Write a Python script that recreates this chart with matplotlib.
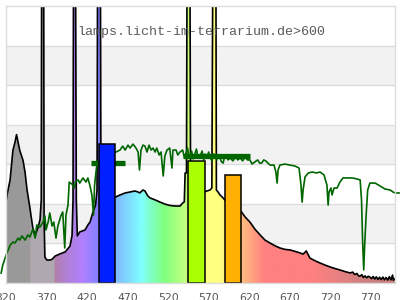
import numpy as np
import matplotlib
matplotlib.use("Agg")
import matplotlib.pyplot as plt
from matplotlib.colors import to_rgb

# lamp spectrum (nm, relative intensity; spikes run off the top)
lamp_nm = [320, 322, 325, 328.5, 331, 333, 335, 337, 341, 343.5, 346, 349.5, 353, 356,
           359.5, 362, 363.5, 364, 366.5, 367, 368, 370.5, 374, 377, 380.5, 386.5, 393,
           399, 401.5, 402.7, 403.3, 405.8, 406.8, 408, 411, 417.5, 421, 423.7, 427,
           430.5, 432.3, 433, 436.5, 437.2, 445, 455.7, 458, 460.7, 467, 473, 479, 483,
           485, 489, 491.5, 495, 497.7, 504, 510, 516, 522, 528.6, 534.7, 538, 540, 541,
           542.7, 543.4, 547, 547.7, 550, 564.3, 568, 571.7, 574, 575.2, 579, 579.6,
           581.7, 584, 586.7, 590, 600, 608.8, 615, 621, 627, 633.5, 639.6, 645.8, 652,
           658, 664, 670.5, 676.5, 682.8, 686.5, 689, 690.5, 693, 695, 701, 707.5, 714,
           720, 726, 732, 738, 744.5, 748, 750, 753, 755, 757, 759, 761, 763, 765, 767,
           769, 771, 773, 775, 777, 779, 781, 783, 785, 787, 789, 791, 793, 795, 797,
           798, 800]
lamp_val = [41, 46, 52, 67, 71, 75, 71, 67, 62, 56, 47, 38, 28, 24,
            28, 32, 42, 160, 160, 32, 13, 11.6, 11.6, 12, 13.6, 14.7, 15.7,
            18.7, 24, 42, 160, 160, 42, 23.8, 25.8, 26.8, 29.3, 30.8, 35.4,
            39.4, 47, 160, 160, 44, 43.5, 43.5, 44, 44.5, 45.5, 46, 46.5, 46,
            45.5, 47, 46.5, 44, 43, 42, 40.9, 39.9, 39.2, 38.9, 38.9, 40.4, 41, 55.6,
            55.6, 160, 160, 55, 50, 46, 46.5, 47, 48, 160, 160, 47,
            46, 44.5, 43.5, 42, 39, 36.9, 33.4, 30.8, 27.3, 24.3, 21.7, 20.2, 18.8,
            17.7, 17.0, 16.7, 16.0, 15.2, 14.6, 15.5, 16.2, 14.2, 12.6, 11.3, 10.1, 9.0,
            8.1, 7.3, 6.6, 5.8, 5.1, 5.5, 4.3, 4.8, 3.6, 3.5, 4.2, 2.8, 3.6, 2.6, 3.4,
            3.0, 2.2, 3.3, 2.0, 3.1, 1.8, 2.9, 1.7, 3.0, 1.6, 2.8, 1.5, 3.2, 1.6, 4.0,
            1.4, 2.2]

# daylight reference (green)
day_nm = [314, 316, 320, 325, 328.5, 331, 335, 337, 339.7, 343.5, 347, 349.6, 353, 356,
          358, 362, 365.7, 368, 369.3, 372, 374, 376.8, 379, 381.7, 384, 387.7, 390,
          392.5, 394, 396.5, 398, 401.4, 404, 406, 409, 411, 415, 418.7, 421, 423.7,
          426, 428, 429.3, 431, 432, 436, 446, 455.7, 460.7, 464, 467, 470.5, 473,
          476.7, 480.4, 483, 484.7, 486.6, 489, 491.5, 494, 496.5, 499, 501.4, 504,
          506, 509, 511.3, 514, 516, 518.7, 522, 524.8, 526, 529.8, 532, 534.7, 538,
          540, 541.8, 544, 546, 547, 549, 551, 553, 555, 557, 559.5, 562, 564, 565.7,
          568, 570, 571.7, 574, 576, 578, 580, 582, 584, 586, 588, 590, 591.8, 594,
          596.6, 600, 603, 606, 609, 612, 615, 618, 621, 623.6, 627, 630.6, 633, 635.5,
          638, 640.5, 645.8, 650.7, 653, 654.5, 655.7, 658, 664, 670.5, 676.7, 681.6,
          684, 685.4, 686.6, 689, 693, 698, 703, 707.5, 712.4, 716, 717.5, 718.6, 721,
          722.3, 724.8, 728.5, 732, 735.8, 741, 747, 753, 757, 758.7, 760, 761.4,
          762.6, 764.4, 766.3, 769, 775.5, 781.5, 787.7, 794, 797.6, 800, 805]
day_val = [5, 9, 14, 19, 20.7, 20.2, 22.7, 21.7, 23.8, 21.7, 24.3, 23.2, 27.3, 22.7,
           29.3, 28.3, 30.8, 33.9, 26.8, 30.8, 35.4, 28.8, 30.8, 22.7, 28.8, 33.9, 35.9,
           17.7, 34.4, 39.4, 51, 50, 48, 51.5, 52.1, 50.5, 53.1, 51, 53.1, 49,
           44.5, 34.4, 49.5, 55.6, 59.6, 62.2, 64, 66.2, 67.2, 69.2, 67.2, 69.7, 68.2,
           70.2, 68.2, 66.2, 57.1, 67.2, 69.7, 69.2, 66.2, 69.7, 67.2, 68.2, 66.2,
           68.2, 64.7, 66.2, 54.1, 64.2, 67.2, 68.2, 58.1, 67.2, 67.2, 64.7, 66.2, 67.2,
           63.7, 65.2, 68.2, 63.2, 64.2, 66.7, 62.7, 65.2, 67.7, 63.2, 64.2, 66.7, 62.2, 65.2,
           63.2, 66.2, 63.7, 61.7, 65.2, 64.7, 62.2, 64.7, 63.2, 61.2, 60.6, 64.7, 64.2, 62.2,
           63.2, 61.7, 63.7, 62.2, 63.2, 61.7, 63.7, 62.2, 62.2, 60.1, 61.2, 62.2, 60.6, 60.6,
           62.2, 61.7, 59.6, 59.6, 56.1, 50.5, 57.1, 59.6, 60.1, 59.6, 59.1, 58.1,
           49.5, 40.9, 47.0, 53.6, 55.6, 56.1, 55.6, 56.1, 54.6, 49.5, 39.4, 46.0, 48.0,
           44.5, 48.0, 48.0, 51.0, 53.1, 53.1, 53.1, 52.6, 52.1, 41.9, 21.7, 6.6,
           19.2, 34.4, 47.0, 50.5, 50.5, 49.0, 47.5, 47.0, 46.0, 45.5, 45.5]

# daylight band markers
mark_lo = [425, 538]
mark_hi = [467, 621]
mark_val = [60.4, 64.2]

# lamp line bars
bar_lo = [435, 545, 590]
bar_hi = [455, 565, 610]
bar_val = [70.2, 61.7, 54.6]
bar_colors = ["#0020ff", "#aaff00", "#ffb000"]

# fill colour along the wavelength axis
grad_nm = [320, 349.9, 350, 379.9, 380, 395, 415, 435, 455, 470, 487, 500, 515,
           540, 565, 585, 590, 610, 640, 700, 760, 800]
grad_col = ["#999999", "#999999", "#b0a8b0", "#b0a8b0", "#b080a8", "#b080d8",
            "#b080ff", "#8080ff", "#80b8ff", "#80d8ff", "#80ffff", "#80ffc0",
            "#80ff80", "#c0ff80", "#ffff80", "#ffff80", "#fff080", "#ffc080",
            "#ff8080", "#ff8080", "#d08080", "#c88080"]

xticks = [320, 370, 420, 470, 520, 570, 620, 670, 720, 770]
title = "lamps.licht-im-terrarium.de>600"

fig = plt.figure(figsize=(4, 3), dpi=100)
ax = fig.add_axes([6 / 400, 17 / 300, 389 / 400, 277 / 300])

# alternating background bands + grid
for lo in (20, 60, 100):
    ax.axhspan(lo, lo + 20, color="#f2f2f2", zorder=0, lw=0)
for g in range(20, 140, 20):
    ax.axhline(g, color="#dddddd", lw=1, zorder=0.5)

# gradient fill clipped to spectrum
xs = np.linspace(320, 800, 961)
rgb = np.array([to_rgb(c) for c in grad_col])
img = np.stack([np.interp(xs, grad_nm, rgb[:, k]) for k in range(3)], axis=-1)[None, :, :]
im = ax.imshow(img, extent=[320, 800, 0, 160], aspect="auto", zorder=1,
               interpolation="bilinear")
poly = ax.fill_between(lamp_nm, 0, lamp_val, color="none", lw=0)
im.set_clip_path(poly.get_paths()[0], transform=ax.transData)
ax.plot(lamp_nm, lamp_val, color="black", lw=1.2, zorder=2)

ax.plot(day_nm, day_val, color="#006600", lw=1.2, zorder=3, clip_on=False)
for lo, hi, v in zip(mark_lo, mark_hi, mark_val):
    ax.plot([lo, hi], [v, v], color="#006600", lw=3.8, solid_capstyle="butt", zorder=3)

for lo, hi, v, c in zip(bar_lo, bar_hi, bar_val, bar_colors):
    ax.bar(lo, v, width=hi - lo, align="edge", color=c, edgecolor="black", lw=1.1, zorder=4)

ax.set_xlim(320, 800)
ax.set_ylim(0, 140)
ax.set_xticks(xticks)
ax.set_xticklabels([str(t) for t in xticks])
ax.tick_params(axis="x", length=0, pad=7.3, labelsize=7.8, labelcolor="#555555")
ax.set_yticks([])
for s in ax.spines.values():
    s.set_color("#dddddd")
    s.set_linewidth(1)
    s.set_zorder(5)

fig.text(77 / 400, 1 - 32 / 300, title, family=["Liberation Mono", "DejaVu Sans Mono"],
         fontsize=9.6, color="#5a5a5a", va="center", ha="left", zorder=10)

fig.savefig("out.png", dpi=100)
